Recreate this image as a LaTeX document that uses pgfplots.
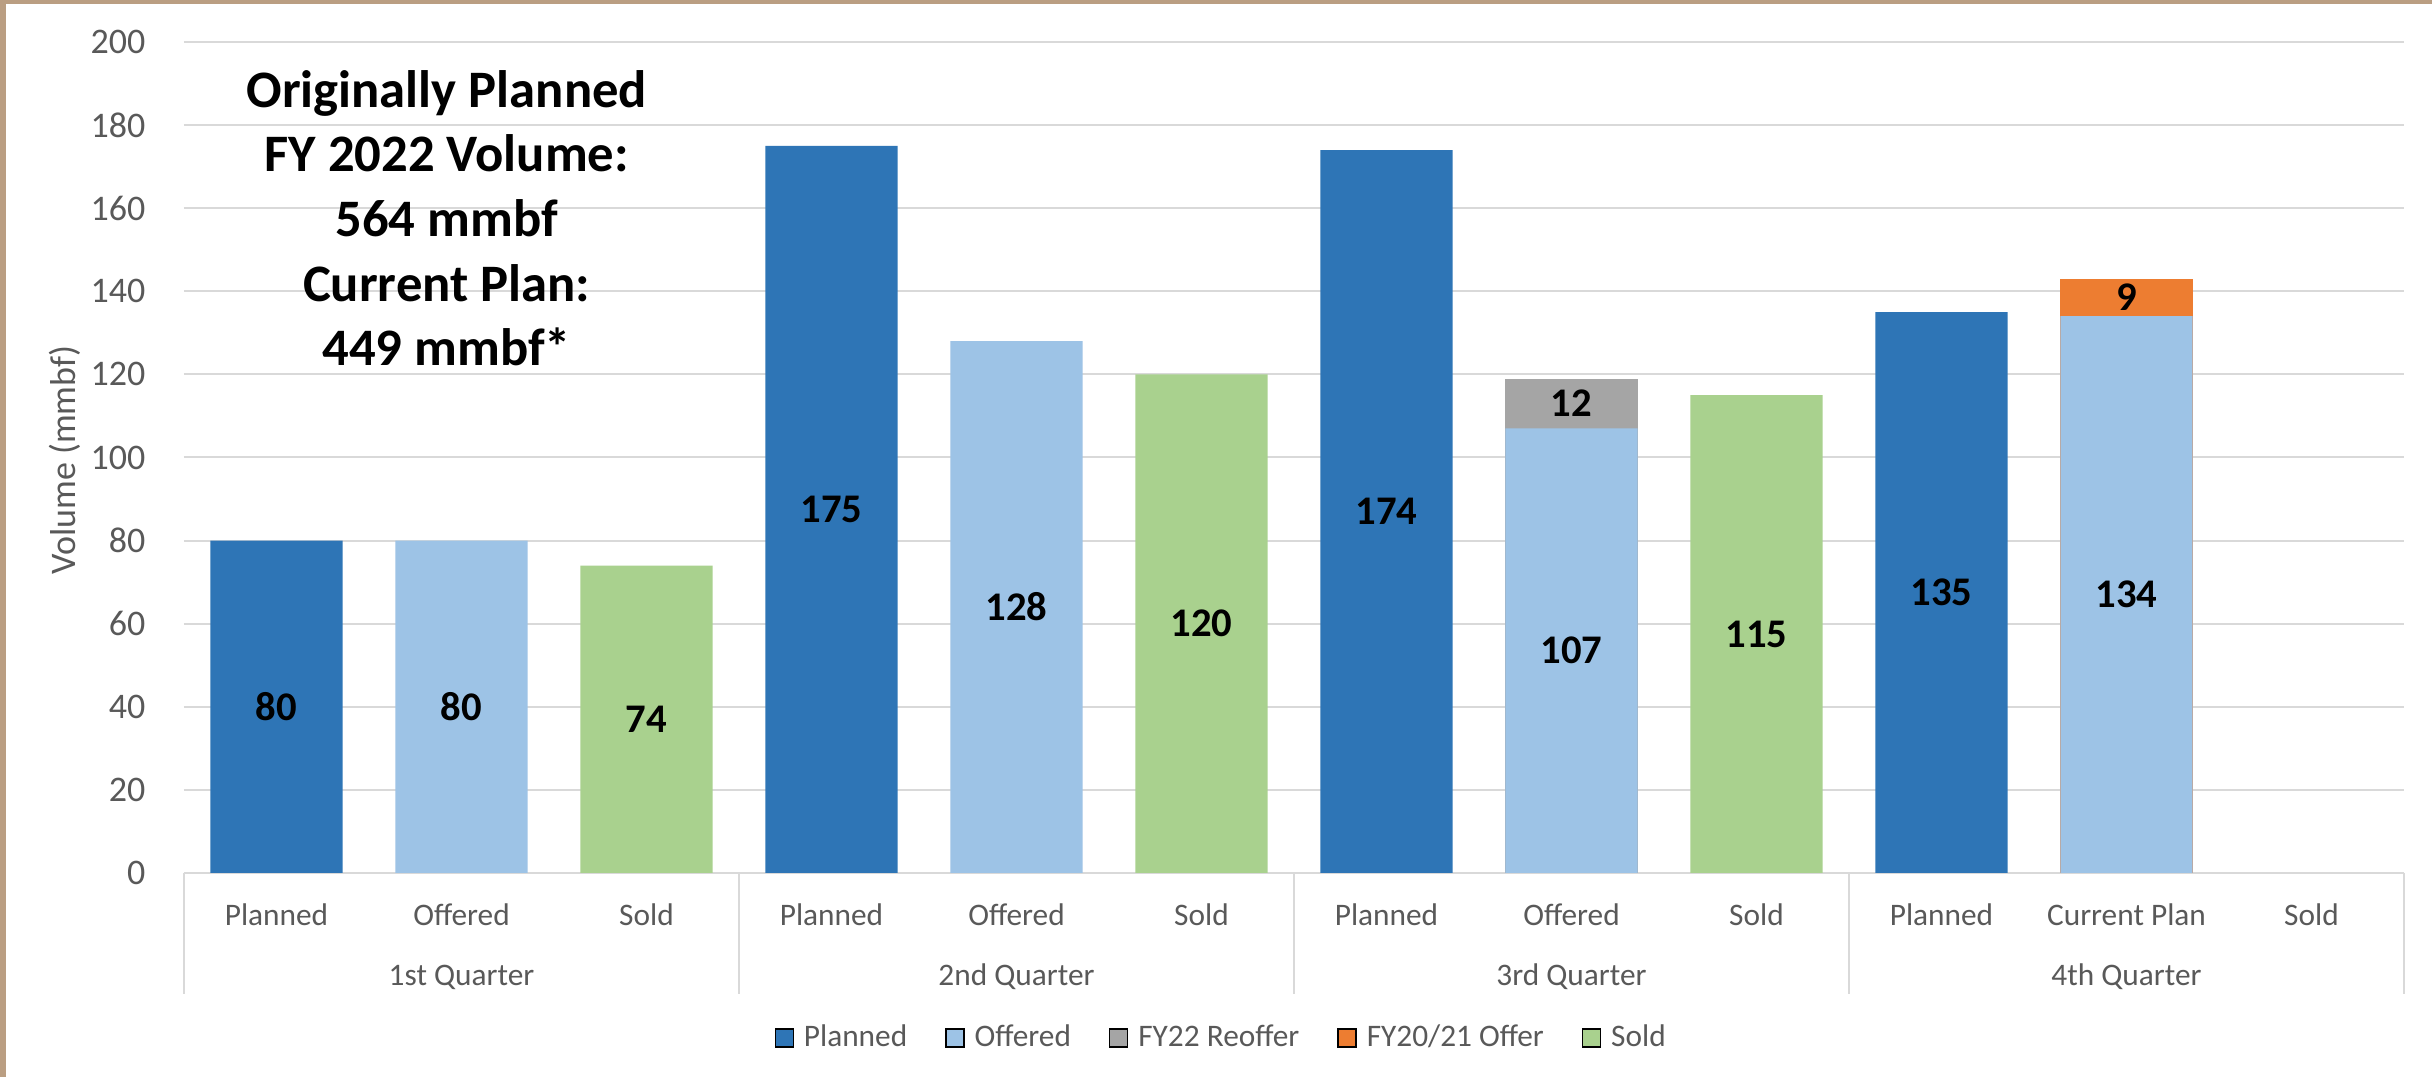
\documentclass[border=0pt]{standalone}
\usepackage{pgfplots}
\pgfplotsset{compat=1.18}
\usepackage{fontspec}
\setmainfont{Carlito}
\definecolor{cPlan}{HTML}{2E75B6}
\definecolor{cOff}{HTML}{9DC3E6}
\definecolor{cRe}{HTML}{A5A5A5}
\definecolor{cOld}{HTML}{ED7D31}
\definecolor{cSold}{HTML}{A9D18E}
\definecolor{cGrid}{HTML}{D9D9D9}
\definecolor{cText}{HTML}{595959}
\definecolor{cTan}{HTML}{BA9E82}
\begin{document}
\begin{tikzpicture}
\fill[cTan] (0,0) rectangle (729.6pt,323.1pt);
\fill[white] (1.8pt,0) rectangle (729.6pt,321.8pt);
\begin{axis}[
  at={(55.2pt,61.2pt)}, anchor=south west,
  width=666pt, height=249.3pt, scale only axis,
  xmin=-0.5, xmax=11.5, ymin=0, ymax=200,
  ytick={0,20,...,200},
  xtick={0,...,11},
  xticklabels={Planned,Offered,Sold,Planned,Offered,Sold,Planned,Offered,Sold,Planned,Current Plan,Sold},
  axis line style={draw=none},
  major tick length=0pt,
  ymajorgrids, grid style={cGrid, line width=0.6pt},
  /pgf/number format/assume math mode=true,
  yticklabel style={font=\fontsize{10.8}{13}\selectfont, text=cText, anchor=east, inner sep=0pt, xshift=-11.4pt},
  xticklabel style={font=\fontsize{9.4}{11}\selectfont, text=cText, anchor=base, inner sep=0pt, yshift=-15.9pt},
  ylabel={Volume (mmbf)},
  ylabel style={at={(axis description cs:-0.0536,0.497)}, anchor=center, font=\fontsize{10.8}{13}\selectfont, text=cText},
  legend image code/.code={\fill[#1] (0pt,-2.7pt) rectangle (5.4pt,2.7pt);},
  legend style={draw=none, fill=none, legend columns=-1, at={(axis description cs:0.469,-0.1986)}, anchor=center,
    font=\fontsize{9.4}{11}\selectfont, text=cText,
    nodes={inner xsep=3pt, inner ysep=0pt},
    /tikz/every even column/.append style={column sep=8.4pt}},
  clip=false,
]
% legend entries
\addlegendimage{fill=cPlan}\addlegendentry{Planned}
\addlegendimage{fill=cOff}\addlegendentry{Offered}
\addlegendimage{fill=cRe}\addlegendentry{FY22 Reoffer}
\addlegendimage{fill=cOld}\addlegendentry{FY20/21 Offer}
\addlegendimage{fill=cSold}\addlegendentry{Sold}
% totals including top segments (drawn first)
\addplot[ybar, bar width=0.714, bar shift=0pt, fill=cRe, draw=none, forget plot] coordinates {(7,119)};
\addplot[ybar, bar width=0.714, bar shift=0pt, fill=cOld, draw=none, forget plot] coordinates {(10,143)};
% main bars
\addplot[ybar, bar width=0.714, bar shift=0pt, fill=cPlan, draw=none, forget plot] coordinates {(0,80) (3,175) (6,174) (9,135)};
\addplot[ybar, bar width=0.714, bar shift=0pt, fill=cOff, draw=none, forget plot] coordinates {(1,80) (4,128) (7,107) (10,134)};
\addplot[ybar, bar width=0.714, bar shift=0pt, fill=cSold, draw=none, forget plot] coordinates {(2,74) (5,120) (8,115)};
% value labels at segment centres
\addplot[draw=none, forget plot, nodes near coords, point meta=explicit symbolic,
  every node near coord/.style={anchor=center, inner sep=0pt, font=\bfseries\fontsize{12.2}{14}\selectfont, text=black}]
  coordinates {(0,40)[80] (3,87.5)[175] (6,87)[174] (9,67.5)[135]
               (1,40)[80] (4,64)[128] (7,53.5)[107] (10,67)[134]
               (7,113)[12] (10,138.5)[9]
               (2,37)[74] (5,60)[120] (8,57.5)[115]};
% category box
\pgfplotsinvokeforeach{-0.5,2.5,5.5,8.5,11.5}{
  \draw[cGrid, line width=0.6pt] (axis cs:#1,0) -- ([yshift=-36.3pt]axis cs:#1,0);
}
\node[anchor=base, inner sep=0pt, font=\fontsize{9.4}{11}\selectfont, text=cText] at ([yshift=-33.9pt]axis cs:1,0) {1st Quarter};
\node[anchor=base, inner sep=0pt, font=\fontsize{9.4}{11}\selectfont, text=cText] at ([yshift=-33.9pt]axis cs:4,0) {2nd Quarter};
\node[anchor=base, inner sep=0pt, font=\fontsize{9.4}{11}\selectfont, text=cText] at ([yshift=-33.9pt]axis cs:7,0) {3rd Quarter};
\node[anchor=base, inner sep=0pt, font=\fontsize{9.4}{11}\selectfont, text=cText] at ([yshift=-33.9pt]axis cs:10,0) {4th Quarter};
\node[align=center, anchor=center, inner sep=0pt, font=\bfseries\fontsize{15.8}{19.4}\selectfont, text=black]
  at (axis cs:0.92,157.6) {Originally Planned\\FY 2022 Volume:\\564 mmbf\\Current Plan:\\449 mmbf*};
\end{axis}
\pgfresetboundingbox
\path (0,0) rectangle (729.6pt,323.1pt);
\end{tikzpicture}
\end{document}
